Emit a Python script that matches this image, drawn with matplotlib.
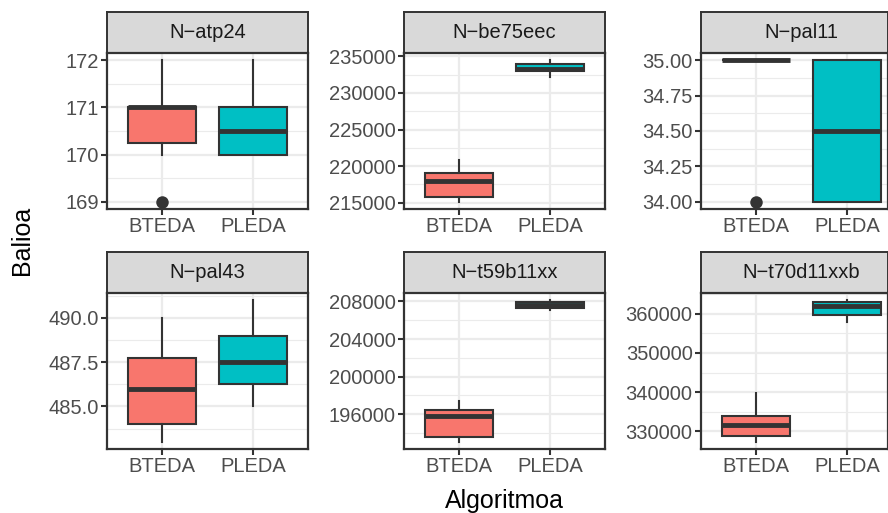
import matplotlib
matplotlib.use("Agg")
import matplotlib.pyplot as plt
from matplotlib.ticker import FixedLocator, FormatStrFormatter

plt.rcParams["font.family"] = ["Liberation Sans", "DejaVu Sans"]

# datuak: [whislo, q1, med, q3, whishi] algoritmo bakoitzeko
algoritmoak = ["BTEDA", "PLEDA"]
instantziak = ["N\u2212atp24", "N\u2212be75eec", "N\u2212pal11",
               "N\u2212pal43", "N\u2212t59b11xx", "N\u2212t70d11xxb"]

atp24_bteda = [170, 170.25, 171, 171, 172]
atp24_pleda = [170, 170, 170.5, 171, 172]
atp24_outlier = [[169], []]

be75eec_bteda = [215100, 215800, 217900, 219100, 220900]
be75eec_pleda = [232200, 232950, 233300, 234000, 234500]
be75eec_outlier = [[], []]

pal11_bteda = [35, 35, 35, 35, 35]
pal11_pleda = [34, 34, 34.5, 35, 35]
pal11_outlier = [[34], []]

pal43_bteda = [483, 484, 486, 487.75, 490]
pal43_pleda = [485, 486.25, 487.5, 489, 491]
pal43_outlier = [[], []]

t59_bteda = [193050, 193600, 195850, 196500, 197450]
t59_pleda = [207100, 207350, 207600, 207900, 208150]
t59_outlier = [[], []]

t70_bteda = [327300, 328700, 331700, 333800, 339800]
t70_pleda = [357900, 359700, 361900, 363000, 363500]
t70_outlier = [[], []]

datuak = [(atp24_bteda, atp24_pleda, atp24_outlier),
          (be75eec_bteda, be75eec_pleda, be75eec_outlier),
          (pal11_bteda, pal11_pleda, pal11_outlier),
          (pal43_bteda, pal43_pleda, pal43_outlier),
          (t59_bteda, t59_pleda, t59_outlier),
          (t70_bteda, t70_pleda, t70_outlier)]

# y ardatzeko marrak
tickak = [[169, 170, 171, 172],
          [215000, 220000, 225000, 230000, 235000],
          [34.0, 34.25, 34.5, 34.75, 35.0],
          [485.0, 487.5, 490.0],
          [196000, 200000, 204000, 208000],
          [330000, 340000, 350000, 360000]]
formatuak = ["%d", "%d", "%.2f", "%.1f", "%d", "%d"]

koloreak = ["#F8766D", "#00BFC4"]
grey20 = "#333333"

W, H = 888, 513
fig = plt.figure(figsize=(W / 100, H / 100), dpi=100)
fig.patch.set_facecolor("white")


def px_axes(x0, x1, y0, y1):
    return fig.add_axes([x0 / W, 1 - y1 / H, (x1 - x0) / W, (y1 - y0) / H])


zutabeak = [(107, 308), (404, 605), (701, 888)]
errenkadak = [(12, 53, 209), (252, 293, 449)]

for i, izena in enumerate(instantziak):
    x0, x1 = zutabeak[i % 3]
    s0, s1, p1 = errenkadak[i // 3]
    bteda, pleda, outl = datuak[i]

    # strip-a
    sax = px_axes(x0, x1, s0, s1)
    sax.set_facecolor("#D9D9D9")
    sax.set_xticks([])
    sax.set_yticks([])
    for sp in sax.spines.values():
        sp.set_color(grey20)
        sp.set_linewidth(1.4)
    sax.text(0.5 * 201 / (x1 - x0), 0.5, izena, transform=sax.transAxes, ha="center",
             va="center", fontsize=14.5, color="#1A1A1A")

    ax = px_axes(x0, x1, s1, p1)
    stats = []
    for j, v in enumerate([bteda, pleda]):
        stats.append(dict(whislo=v[0], q1=v[1], med=v[2], q3=v[3], whishi=v[4],
                          fliers=outl[j], label=algoritmoak[j]))
    bp = ax.bxp(stats, positions=[1, 2], widths=0.75, patch_artist=True,
                showcaps=False,
                boxprops=dict(edgecolor=grey20, linewidth=1.5),
                medianprops=dict(color=grey20, linewidth=3.5, solid_capstyle="butt"),
                whiskerprops=dict(color=grey20, linewidth=1.5),
                flierprops=dict(marker="o", markerfacecolor=grey20,
                                markeredgecolor="none", markersize=9))
    for patch, k in zip(bp["boxes"], koloreak):
        patch.set_facecolor(k)

    # ylim ggplot bezala (5% zabalpena)
    guztiak = bteda + pleda + outl[0] + outl[1]
    lo, hi = min(guztiak), max(guztiak)
    tarte = hi - lo
    ax.set_ylim(lo - 0.05 * tarte, hi + 0.05 * tarte)
    ax.set_xlim(0.4, 0.4 + 2.2 * (x1 - x0) / 201)

    t = tickak[i]
    ax.yaxis.set_major_locator(FixedLocator(t))
    ax.yaxis.set_major_formatter(FormatStrFormatter(formatuak[i]))
    pausoa = t[1] - t[0]
    minorrak = [t[0] - pausoa / 2] + [a + pausoa / 2 for a in t]
    ax.yaxis.set_minor_locator(FixedLocator(minorrak))
    ax.set_xticks([1, 2])
    ax.set_xticklabels(algoritmoak)

    ax.set_axisbelow(True)
    ax.grid(which="major", color="#EBEBEB", linewidth=1.6)
    ax.grid(which="minor", axis="y", color="#EBEBEB", linewidth=0.8)
    ax.tick_params(which="major", length=4, width=1.5, color=grey20,
                   labelcolor="#4D4D4D", labelsize=14.5, pad=2)
    ax.tick_params(which="minor", length=0)
    for sp in ax.spines.values():
        sp.set_color(grey20)
        sp.set_linewidth(1.6)
    ax.set_facecolor("white")

fig.text(22 / W, 1 - 240 / H, "Balioa", rotation=90, ha="center", va="center",
         fontsize=18, color="black")
fig.text(504 / W, 1 - 501 / H, "Algoritmoa", ha="center", va="center",
         fontsize=18, color="black")

fig.savefig("out.png", dpi=100)
